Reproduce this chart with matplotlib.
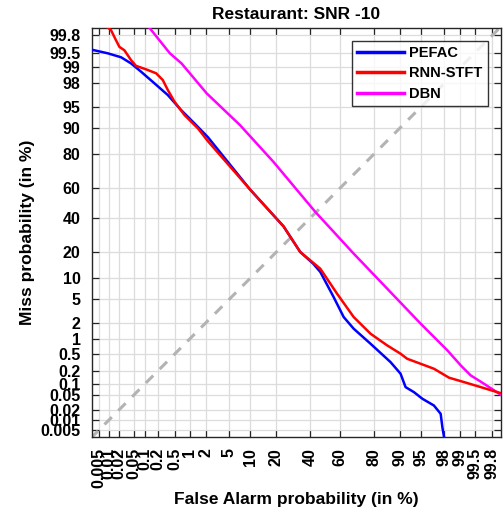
from math import erf, sqrt
from statistics import NormalDist

import matplotlib
matplotlib.use('Agg')
import matplotlib.pyplot as plt
import numpy as np

plt.rcParams['font.family'] = ['Liberation Sans', 'DejaVu Sans']
plt.rcParams['font.weight'] = 'bold'

# tick labels (in %)
ticks = [0.005, 0.01, 0.02, 0.05, 0.1, 0.2, 0.5, 1, 2, 5, 10, 20, 40, 60, 80, 90, 95, 98, 99, 99.5, 99.8]
tick_labels = ['0.005', '0.01', '0.02', '0.05', '0.1', '0.2', '0.5', '1', '2', '5', '10', '20',
               '40', '60', '80', '90', '95', '98', '99', '99.5', '99.8']

# PEFAC
pefac_fa = [0.002, 0.00935, 0.0228, 0.0428, 0.0783, 0.169, 0.346, 0.671, 1.25, 2.21, 9.89, 23.8,
            33.5, 42.0, 46.8, 55.9, 62.6, 68.9, 78.3, 87.0, 90.3, 91.7, 93.7, 95.3, 96.94, 97.66, 97.82, 98.17]
pefac_miss = [99.6, 99.49, 99.38, 99.17, 98.79, 98.0, 96.8, 94.47, 91.39, 87.1, 59.3, 34.6,
              20.2, 15.0, 11.94, 5.40, 2.56, 1.58, 0.805, 0.325, 0.175, 0.0815, 0.0604, 0.0404, 0.0265,
              0.0155, 0.0062, 0.001]

# RNN-STFT
rnn_fa = [0.0071, 0.0117, 0.0163, 0.0205, 0.0283, 0.0428, 0.058, 0.105, 0.185, 0.265, 0.346, 0.486,
          0.789, 1.45, 2.21, 9.89, 23.8, 33.5, 46.8, 58.2, 68.9, 78.3, 85.75, 90.3, 92.1, 94.98,
          96.94, 98.35, 99.16, 99.63, 99.818, 99.882]
rnn_miss = [99.89, 99.85, 99.74, 99.63, 99.56, 99.29, 99.07, 98.91, 98.70, 98.26, 97.37, 95.89,
            93.44, 90.0, 85.6, 59.3, 34.6, 20.2, 13.1, 6.07, 2.56, 1.27, 0.743, 0.497, 0.386, 0.298,
            0.229, 0.140, 0.109, 0.0815, 0.064, 0.056]

# DBN
dbn_fa = [0.123, 0.383, 0.683, 2.10, 7.21, 18.8, 43.4, 68.9, 85.75, 94.98, 98.23, 99.02, 99.388, 99.687, 99.882]
dbn_miss = [99.873, 99.49, 99.17, 97.01, 90.95, 76.05, 44.1, 19.4, 7.17, 1.96, 0.585, 0.273, 0.159, 0.099, 0.0496]

diag = [0.001, 99.99]

_nd = NormalDist()
_ppf = np.vectorize(lambda p: _nd.inv_cdf(p), otypes=[float])
_cdf = np.vectorize(lambda z: 0.5 * (1 + erf(z / sqrt(2))), otypes=[float])


def fwd(x):
    p = np.clip(np.asarray(x, dtype=float) / 100.0, 1e-12, 1 - 1e-12)
    return _ppf(p)


def inv(z):
    return _cdf(np.asarray(z, dtype=float)) * 100.0


fig = plt.figure(figsize=(5.03, 5.15), dpi=100)
ax = fig.add_axes([0.1823, 0.152, 0.8131, 0.7942])
ax.set_xscale('function', functions=(fwd, inv))
ax.set_yscale('function', functions=(fwd, inv))

ax.plot(diag, diag, color='#b3b3b3', lw=2.2, dashes=(3.4, 3.0), zorder=2)
ax.plot(pefac_fa, pefac_miss, color='#0000ff', lw=1.8, label='PEFAC', zorder=3)
ax.plot(rnn_fa, rnn_miss, color='#ff0000', lw=1.8, label='RNN-STFT', zorder=4)
ax.plot(dbn_fa, dbn_miss, color='#ff00ff', lw=1.8, label='DBN', zorder=3)

ax.set_xlim(float(inv(-4.01)), float(inv(3.02)))
ax.set_ylim(float(inv(-4.0)), float(inv(3.007)))

ax.set_xticks(ticks)
ax.set_xticklabels(tick_labels, rotation=90, fontsize=11.5, fontweight='bold')
ax.set_yticks(ticks)
ax.set_yticklabels(tick_labels, fontsize=11.5, fontweight='bold')
ax.minorticks_off()
ax.tick_params(which='major', direction='in', length=5, width=0.9, top=True, right=True,
               labeltop=False, labelright=False, pad=8, color='#262626')
ax.grid(True, color='#dcdcdc', lw=0.9)
ax.set_axisbelow(True)
for s in ax.spines.values():
    s.set_linewidth(1.0)
    s.set_color('#262626')

ax.set_title('Restaurant: SNR -10', fontsize=12.5, fontweight='bold', pad=6)
ax.set_xlabel('False Alarm probability (in %)', fontsize=12.5, fontweight='bold', labelpad=3)
ax.set_ylabel('Miss probability (in %)', fontsize=12.5, fontweight='bold', labelpad=4)

leg = ax.legend(loc='upper right', fontsize=10.5, handlelength=3.2, frameon=True, fancybox=False,
                borderaxespad=0.9, labelspacing=0.45, borderpad=0.35, handletextpad=0.35)
leg.get_frame().set_edgecolor('black')
leg.get_frame().set_linewidth(1.0)
for h in leg.get_lines():
    h.set_linewidth(2.5)
for t in leg.get_texts():
    t.set_fontweight('bold')

fig.savefig('out.png', dpi=100)
